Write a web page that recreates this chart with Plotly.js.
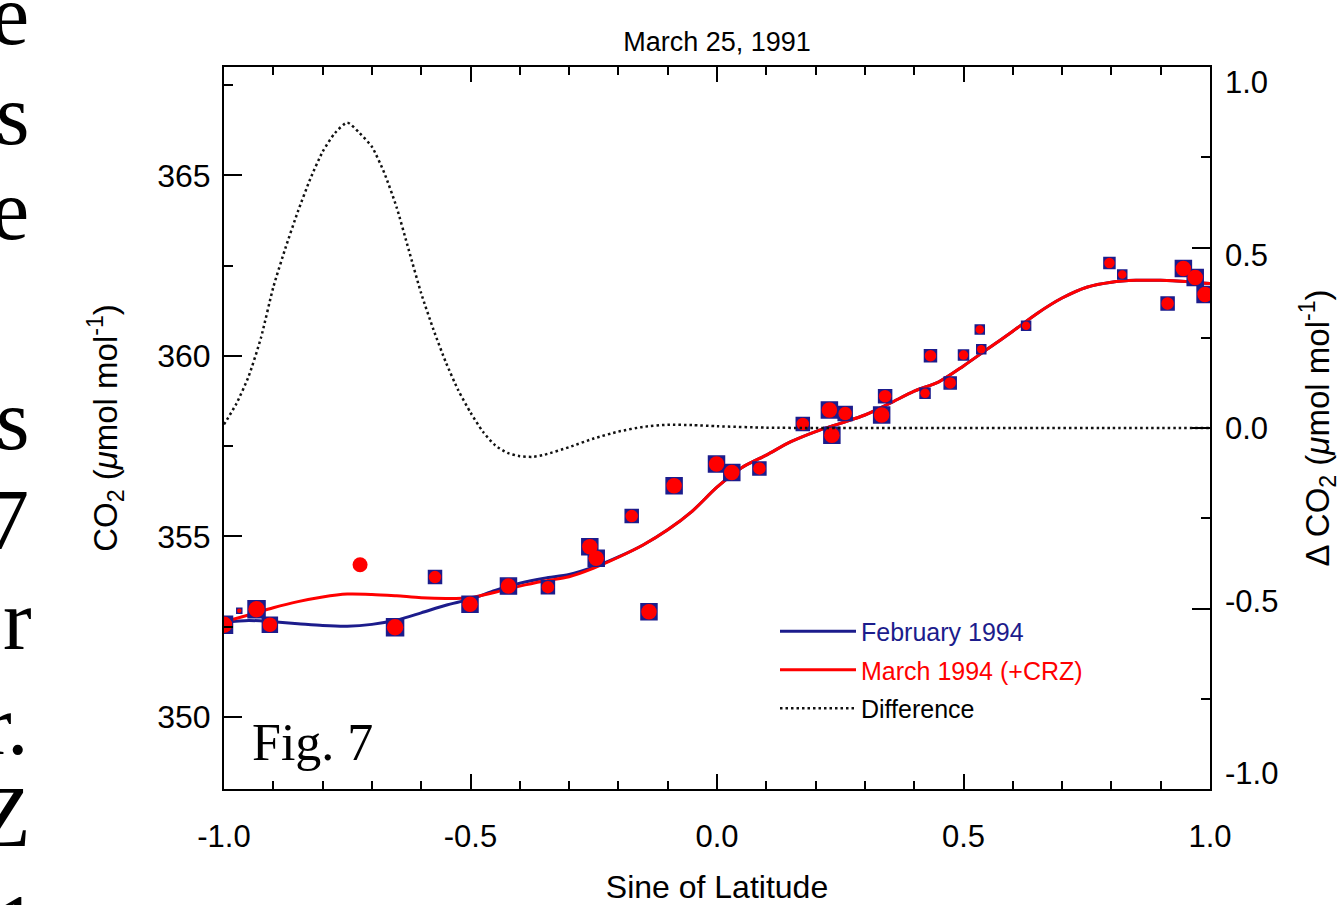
<!DOCTYPE html>
<html><head><meta charset="utf-8">
<script src="https://cdn.plot.ly/plotly-3.0.1.min.js"></script>
<style>html,body{margin:0;padding:0;background:#fff;}#chart{width:1341px;height:905px;}</style>
</head><body><div id="chart"></div>
<script>
// Observations (sine of latitude, CO2 µmol/mol) — shared by Feb and March
const obsLat = [-1.000,-0.969,-0.934,-0.907,-0.653,-0.572,-0.501,-0.423,-0.343,-0.258,-0.245,-0.173,-0.138,-0.087,-0.001,0.030,0.086,0.174,0.228,0.233,0.260,0.334,0.341,0.422,0.433,0.473,0.500,0.536,0.533,0.627,0.796,0.822,0.914,0.946,0.970,0.990];
const obsCO2 = [352.55,352.94,352.98,352.55,352.48,353.87,353.12,353.62,353.59,354.71,354.39,355.56,352.91,356.40,357.00,356.77,356.88,358.11,358.50,357.80,358.40,358.36,358.88,358.96,360.00,359.25,360.02,360.18,360.73,360.83,362.57,362.25,361.45,362.42,362.17,361.70];
const obsWeight = [17,5,17,15,17,13,16,16,13,16,16,13,16,16,16,16,13,13,16,16,14,16,13,10,12,12,10,9,9,9,11,9,13,16,16,16];
// Extra March (+CRZ) observation
const crzLat = [-0.724];
const crzCO2 = [354.21];
const crzWeight = [15];

// Fitted curves
const fitLat = [-1.00,-0.95,-0.90,-0.85,-0.80,-0.75,-0.70,-0.65,-0.60,-0.55,-0.50,-0.45,-0.40,-0.35,-0.30,-0.25,-0.20,-0.15,-0.10,-0.05,0.00,0.05,0.10,0.15,0.20,0.25,0.30,0.35,0.40,0.45,0.50,0.55,0.60,0.65,0.70,0.75,0.80,0.85,0.90,0.95,1.00];
const marchFit = [352.63,352.82,353.02,353.19,353.32,353.40,353.39,353.35,353.30,353.28,353.30,353.45,353.62,353.76,353.88,354.12,354.42,354.76,355.18,355.70,356.36,356.90,357.25,357.62,357.90,358.13,358.36,358.68,359.02,359.28,359.72,360.20,360.68,361.18,361.60,361.90,362.04,362.09,362.09,362.06,362.00];
const febFit = [352.62,352.67,352.63,352.58,352.53,352.51,352.56,352.68,352.88,353.09,353.26,353.50,353.70,353.84,353.94,354.15,354.43,354.76,355.18,355.70,356.36,356.90,357.25,357.62,357.90,358.13,358.36,358.68,359.02,359.28,359.72,360.20,360.68,361.18,361.60,361.90,362.04,362.09,362.09,362.06,362.00];

// Difference (March - February), right axis
const diffLat = [-1.000,-0.975,-0.950,-0.925,-0.900,-0.875,-0.850,-0.825,-0.800,-0.775,-0.750,-0.725,-0.700,-0.675,-0.650,-0.625,-0.600,-0.575,-0.550,-0.525,-0.500,-0.475,-0.450,-0.425,-0.400,-0.375,-0.350,-0.300,-0.250,-0.200,-0.150,-0.100,-0.050,0.000,0.100,0.200,0.400,0.600,0.800,1.000];
const diffVal = [0.010,0.067,0.143,0.250,0.390,0.500,0.600,0.690,0.765,0.817,0.846,0.817,0.779,0.707,0.612,0.492,0.373,0.272,0.182,0.105,0.043,-0.010,-0.048,-0.069,-0.078,-0.080,-0.074,-0.053,-0.029,-0.010,0.003,0.009,0.008,0.005,0.001,0.000,0.000,0.000,0.000,0.000];

const xTicks = [-1.0,-0.5,0.0,0.5,1.0];
const xTickText = ['-1.0','-0.5','0.0','0.5','1.0'];
const yTicks = [350,355,360,365];
const y2Ticks = [-1.0,-0.5,0.0,0.5,1.0];
const y2TickText = ['-1.0','-0.5','0.0','0.5','1.0'];

// Fragments of the surrounding page text visible at the left edge
const pageFragments = ['e','s','e','s','7','or','r.','Z','1'];

const NAVY = '#1c1c8c';
const RED = '#ff0000';
const FONT = 'Liberation Sans, Arial, sans-serif';
const SERIF = 'Liberation Serif, Times New Roman, serif';

const traces = [
  {x: fitLat, y: febFit, mode: 'lines', legendgroup: 'a', name: '<span style="color:' + NAVY + '">February 1994</span>',
   line: {color: NAVY, width: 3, shape: 'spline', smoothing: 0.8}},
  {x: fitLat, y: marchFit, mode: 'lines', legendgroup: 'b', name: '<span style="color:' + RED + '">March 1994 (+CRZ)</span>',
   line: {color: RED, width: 3, shape: 'spline', smoothing: 0.8}},
  {x: diffLat, y: diffVal, yaxis: 'y2', mode: 'lines', legendgroup: 'c', name: 'Difference',
   line: {color: '#111', width: 2.5, dash: '2.5px,3px', shape: 'spline', smoothing: 0.6}},
  // same difference series referenced on the label axis so that axis is drawn
  {x: diffLat, y: diffVal, yaxis: 'y3', mode: 'lines', showlegend: false, opacity: 0,
   line: {width: 0}, hoverinfo: 'skip'},
  {x: obsLat, y: obsCO2, mode: 'markers', showlegend: false,
   marker: {symbol: 'square', size: obsWeight, color: NAVY, opacity: 1, line: {color: NAVY, width: 1.5}}},
  {x: obsLat.concat(crzLat), y: obsCO2.concat(crzCO2), mode: 'markers', showlegend: false,
   marker: {symbol: 'circle', size: obsWeight.map(s => s - 0.5).concat(crzWeight), color: RED, opacity: 1, line: {width: 0}}}
];

// baseline pixel rows and right edges of the page-text fragments
const fragBase = [45,145,240,450,550,650,755,847,955];
const fragRight = [31,31,31,31,31,34,30,33,40];
const FRAG_SIZE = 86;
const annotations = pageFragments.map((t, i) => ({
  text: t, xref: 'paper', yref: 'paper', x: (fragRight[i] - 224) / 986,
  y: (789 - (fragBase[i] + 0.216 * FRAG_SIZE + 1)) / 722,
  xanchor: 'right', yanchor: 'bottom', showarrow: false,
  font: {family: SERIF, size: FRAG_SIZE, color: '#000'}
}));
annotations.push({text: 'Fig. 7', xref: 'paper', yref: 'paper', x: 0.026, y: 0.065,
  xanchor: 'left', yanchor: 'middle', showarrow: false, font: {family: SERIF, size: 52, color: '#000'}});

const axisCommon = {
  showgrid: false, zeroline: false, showline: true, linecolor: '#000', linewidth: 2,
  ticks: 'inside', tickcolor: '#000', tickwidth: 2,
  tickfont: {family: FONT, size: 31, color: '#000'}
};

const layout = {
  width: 1341, height: 905,
  margin: {l: 224, r: 131, t: 67, b: 116},
  paper_bgcolor: '#fff', plot_bgcolor: '#fff',
  font: {family: FONT, color: '#000'},
  title: {text: 'March 25, 1991', font: {family: FONT, size: 27, color: '#000'},
          x: 0.5, xref: 'paper', y: 1 - 42/905, yref: 'container', yanchor: 'middle'},
  xaxis: Object.assign({}, axisCommon, {
    range: [-1, 1], tickvals: xTicks, ticktext: xTickText, ticklen: 15, mirror: 'ticks',
    minor: {dtick: 0.1, tick0: 0, ticks: 'inside', ticklen: 8, tickcolor: '#000', tickwidth: 2},
    ticklabelstandoff: 19,
    title: {text: 'Sine of Latitude', font: {family: FONT, size: 32, color: '#000'}, standoff: 22}
  }),
  yaxis: Object.assign({}, axisCommon, {
    range: [348, 368], tickvals: yTicks, ticklen: 18,
    tickfont: {family: FONT, size: 32, color: '#000'},
    minor: {dtick: 2.5, tick0: 350, ticks: 'inside', ticklen: 9, tickcolor: '#000', tickwidth: 2},
    ticklabelstandoff: 5,
    title: {text: 'CO<sub>2</sub> (<i>μ</i>mol mol<sup>-1</sup>)', font: {family: FONT, size: 33, color: '#000'}, standoff: 30}
  }),
  yaxis2: Object.assign({}, axisCommon, {
    range: [-1, 1], overlaying: 'y', side: 'right', tickvals: y2Ticks, ticklen: 18,
    showticklabels: false,
    minor: {dtick: 0.25, tick0: 0, ticks: 'inside', ticklen: 9, tickcolor: '#000', tickwidth: 2},
    title: {text: 'Δ CO<sub>2</sub> (<i>μ</i>mol mol<sup>-1</sup>)', font: {family: FONT, size: 33, color: '#000'}, standoff: 95}
  }),
  yaxis3: {
    range: [-1.045, 1.045], overlaying: 'y', side: 'right', anchor: 'x',
    showgrid: false, zeroline: false, showline: false, ticks: '',
    tickvals: y2Ticks, ticktext: y2TickText, ticklabelstandoff: 14,
    tickfont: {family: FONT, size: 31, color: '#000'}
  },
  legend: {x: (775 - 224) / 986, y: 0.25, xanchor: 'left', yanchor: 'top', bgcolor: 'rgba(0,0,0,0)',
           font: {family: FONT, size: 25, color: '#000'}, itemwidth: 76, tracegroupgap: 3,
           traceorder: 'grouped'},
  annotations: annotations,
  showlegend: true
};

Plotly.newPlot('chart', traces, layout, {staticPlot: true, displayModeBar: false});
</script></body></html>
